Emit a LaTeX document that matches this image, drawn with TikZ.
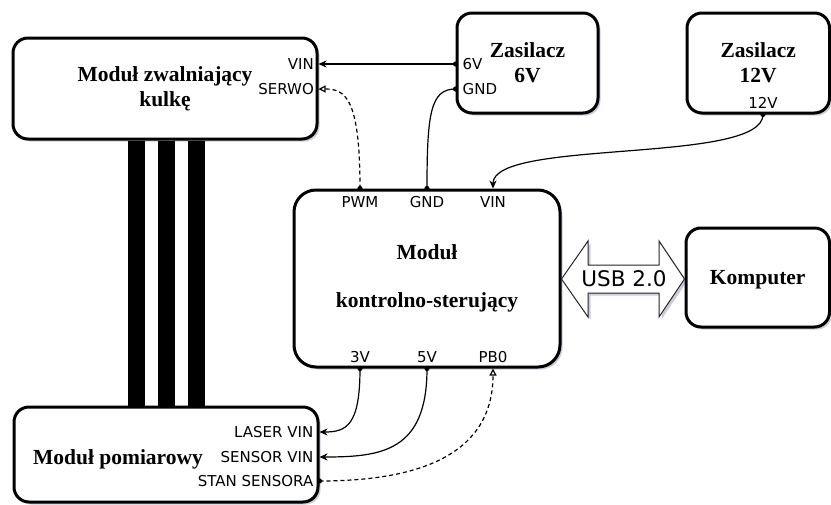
\documentclass[tikz,border=0pt]{standalone}
\usepackage{fontspec}
\setmainfont{Liberation Serif}
\newfontfamily\lab{DejaVu Sans}
\usetikzlibrary{arrows.meta,shadows}
\begin{document}
\begin{tikzpicture}[x=1pt,y=-1pt,
  softshadow/.style={drop shadow={shadow xshift=2.5pt,shadow yshift=-2.5pt,fill=blue!30!black,opacity=.2}},
  box/.style={draw, line width=3pt, fill=white, rounded corners=15pt, inner sep=0pt, align=center,
     font=\fontsize{21.5}{25}\selectfont\bfseries, softshadow},
  title/.style={font=\fontsize{21.5}{25}\selectfont\bfseries, inner sep=0pt},
  pinlab/.style={font=\lab\fontsize{15}{17}\selectfont, inner sep=0pt},
  wire/.style={line width=1.2pt},
  ctl/.style={line width=1.2pt, dash pattern=on 4pt off 3pt},
  arrw/.style={-{Stealth[length=8pt,width=7pt,inset=2.5pt]}},
  oarrw/.style={-{Triangle[open,length=7pt,width=7pt,fill=white]}},
  thickbar/.style={line width=16.7pt},
  usbline/.style={draw=black!85, line width=1pt, fill=white, line join=miter, softshadow},
  ]
\useasboundingbox (0,0) rectangle (831,504);

% boxes
\node[box, minimum width=304pt, minimum height=101pt] (zw) at (165,88.5) {Moduł zwalniający\\kulkę};
\node[box, minimum width=141pt, minimum height=100pt] (z6) at (527.5,63) {Zasilacz\\6V};
\node[box, minimum width=142.5pt, minimum height=100pt, text depth=0pt] (z12) at (758.25,63) {Zasilacz\\12V};
\node[box, rounded corners=22pt, minimum width=266pt, minimum height=177pt] (ks) at (427,278.5) {Moduł\\[23pt]kontrolno-sterujący};
\node[box, minimum width=143.5pt, minimum height=99pt, text depth=0pt] (pc) at (757.75,277.5) {Komputer};
\node[box, minimum width=304pt, minimum height=95pt] (pom) at (166,454.5) {};
\node[title] (pomt) at (118,459) {Moduł pomiarowy};

% thick bars between the two modules
\draw[thickbar] (zw.south -| 136.5,0) -- (pom.north -| 136.5,0);
\draw[thickbar] (zw.south -| 166.5,0) -- (pom.north -| 166.5,0);
\draw[thickbar] (zw.south -| 196.5,0) -- (pom.north -| 196.5,0);

% pins
\coordinate (zwVIN) at (zw.east |- 0,64);
\coordinate (zwSERWO) at (zw.east |- 0,89);
\coordinate (z6V) at (z6.west |- 0,64);
\coordinate (z6GND) at (z6.west |- 0,89);
\coordinate (z12V) at (z12.south -| 763,0);
\coordinate (ksPWM) at (ks.north -| 360,0);
\coordinate (ksGND) at (ks.north -| 427,0);
\coordinate (ksVIN) at (ks.north -| 493,0);
\coordinate (ks3V) at (ks.south -| 360,0);
\coordinate (ks5V) at (ks.south -| 427,0);
\coordinate (ksPB0) at (ks.south -| 493,0);
\coordinate (pomL) at (pom.east |- 0,432);
\coordinate (pomS) at (pom.east |- 0,457);
\coordinate (pomT) at (pom.east |- 0,481);

% pin labels
\node[pinlab, anchor=east, xshift=-4.5pt] (lzwvin) at (zwVIN) {VIN};
\node[pinlab, anchor=east, xshift=-4.5pt] (lzwserwo) at (zwSERWO) {SERWO};
\node[pinlab, anchor=west, xshift=7pt] (lz6v) at (z6V) {6V};
\node[pinlab, anchor=west, xshift=7pt] (lz6gnd) at (z6GND) {GND};
\node[pinlab, yshift=11.5pt] (lz12v) at (z12V) {12V};
\node[pinlab, yshift=-13.5pt] (lpwm) at (ksPWM) {PWM};
\node[pinlab, yshift=-13.5pt] (lksgnd) at (ksGND) {GND};
\node[pinlab, yshift=-13.5pt] (lksvin) at (ksVIN) {VIN};
\node[pinlab, yshift=11.5pt] (l3v) at (ks3V) {3V};
\node[pinlab, yshift=11.5pt] (l5v) at (ks5V) {5V};
\node[pinlab, yshift=11.5pt] (lpb0) at (ksPB0) {PB0};
\node[pinlab, anchor=east, xshift=-6pt] (llaser) at (pomL) {LASER VIN};
\node[pinlab, anchor=east, xshift=-6pt] (lsensor) at (pomS) {SENSOR VIN};
\node[pinlab, anchor=east, xshift=-6pt] (lstan) at (pomT) {STAN SENSORA};

% connectors
\draw[wire, arrw] (z6V) -- (zwVIN);
\draw[wire] (z6GND) .. controls +(-25,0) and +(0,-75) .. (ksGND);
\draw[wire, arrw] (z12V) .. controls +(0,50) and +(0,-50) .. (ksVIN);
\draw[ctl, oarrw] (ksPWM) .. controls +(0,-90) and +(27,0) .. (zwSERWO);
\draw[wire, arrw] (ks3V) .. controls +(0,57) and +(27,0) .. (pomL);
\draw[wire, arrw] (ks5V) .. controls +(0,83) and +(62,0) .. (pomS);
\draw[ctl, oarrw] (pomT) .. controls +(122,0) and +(0,73) .. (ksPB0);

\foreach \p in {z6V,z6GND,z12V,ksPWM,ksGND,ks3V,ks5V,pomT}
  \fill (\p) circle[radius=2.6pt];

% USB double arrow
\draw[usbline] (ks.east |- 0,279) -- (588,241) -- (588,265) -- (659,265) -- (659,241)
  -- (pc.west |- 0,279) -- (659,317) -- (659,293) -- (588,293) -- (588,317) -- cycle;
\node[font=\lab\fontsize{21.5}{26}\selectfont, inner sep=0pt] (usb) at (624,279) {USB 2.0};
\end{tikzpicture}
\end{document}
